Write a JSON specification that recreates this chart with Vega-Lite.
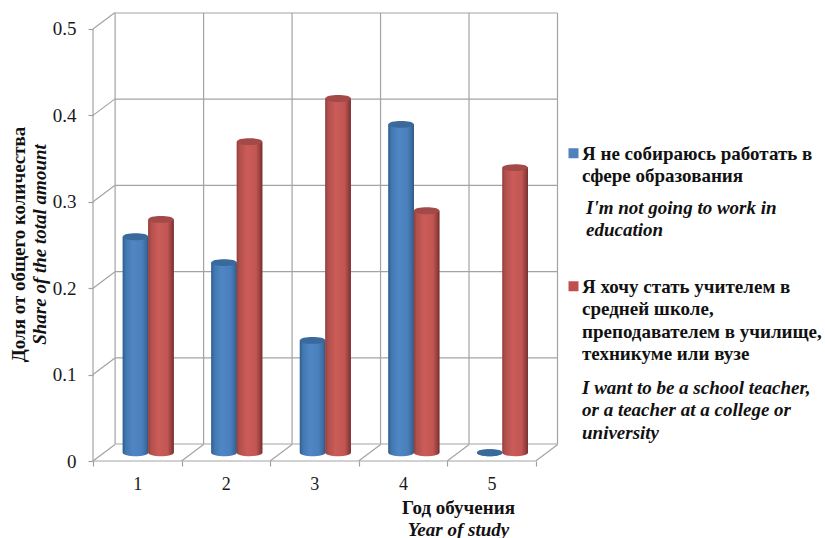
{
  "$schema": "https://vega.github.io/schema/vega-lite/v6.json",
  "width": 464.5,
  "height": 448,
  "autosize": "none",
  "padding": {"left": 93, "top": 13, "right": 267.5, "bottom": 77},
  "background": "white",
  "config": {
    "view": {"stroke": null},
    "style": {"guide-label": {"lineHeight": 22.5}},
    "axis": {"labelFont": "Liberation Serif", "titleFont": "Liberation Serif", "labelColor": "#1a1a1a", "titleColor": "#111111", "tickColor": "#a0a0a0", "tickWidth": 1.2, "grid": false},
    "legend": {"title": null, "orient": "none", "padding": 0, "labelFont": "Liberation Serif", "labelFontSize": 19, "labelColor": "#111111", "labelLimit": 400, "labelBaseline": "top"}
  },
  "datasets": {
    "bars": [
      {"year": 1, "share": 0.25, "series": "Я не собираюсь работать в\nсфере образования", "note": "I'm not going to work in\neducation"},
      {"year": 2, "share": 0.22, "series": "Я не собираюсь работать в\nсфере образования", "note": "I'm not going to work in\neducation"},
      {"year": 3, "share": 0.13, "series": "Я не собираюсь работать в\nсфере образования", "note": "I'm not going to work in\neducation"},
      {"year": 4, "share": 0.38, "series": "Я не собираюсь работать в\nсфере образования", "note": "I'm not going to work in\neducation"},
      {"year": 5, "share": 0, "series": "Я не собираюсь работать в\nсфере образования", "note": "I'm not going to work in\neducation"},
      {"year": 1, "share": 0.27, "series": "Я хочу стать учителем в\nсредней школе,\nпреподавателем в училище,\nтехникуме или вузе", "note": "I want to be a school teacher,\n\u00a0or a teacher at a college or\nuniversity"},
      {"year": 2, "share": 0.36, "series": "Я хочу стать учителем в\nсредней школе,\nпреподавателем в училище,\nтехникуме или вузе", "note": "I want to be a school teacher,\n\u00a0or a teacher at a college or\nuniversity"},
      {"year": 3, "share": 0.41, "series": "Я хочу стать учителем в\nсредней школе,\nпреподавателем в училище,\nтехникуме или вузе", "note": "I want to be a school teacher,\n\u00a0or a teacher at a college or\nuniversity"},
      {"year": 4, "share": 0.28, "series": "Я хочу стать учителем в\nсредней школе,\nпреподавателем в училище,\nтехникуме или вузе", "note": "I want to be a school teacher,\n\u00a0or a teacher at a college or\nuniversity"},
      {"year": 5, "share": 0.33, "series": "Я хочу стать учителем в\nсредней школе,\nпреподавателем в училище,\nтехникуме или вузе", "note": "I want to be a school teacher,\n\u00a0or a teacher at a college or\nuniversity"}
    ],
    "backWall": [
      {"a": 0.5, "b": 5.5, "v": 0, "w": 0},
      {"a": 0.5, "b": 5.5, "v": 0.1, "w": 0.1},
      {"a": 0.5, "b": 5.5, "v": 0.2, "w": 0.2},
      {"a": 0.5, "b": 5.5, "v": 0.3, "w": 0.3},
      {"a": 0.5, "b": 5.5, "v": 0.4, "w": 0.4},
      {"a": 0.5, "b": 5.5, "v": 0.5, "w": 0.5},
      {"a": 0.5, "b": 0.5, "v": 0, "w": 0.5},
      {"a": 1.5, "b": 1.5, "v": 0, "w": 0.5},
      {"a": 2.5, "b": 2.5, "v": 0, "w": 0.5},
      {"a": 3.5, "b": 3.5, "v": 0, "w": 0.5},
      {"a": 4.5, "b": 4.5, "v": 0, "w": 0.5},
      {"a": 5.5, "b": 5.5, "v": 0, "w": 0.5}
    ],
    "frontEdges": [
      {"a": 0.5, "b": 0.5, "v": 0, "w": 0.5},
      {"a": 0.5, "b": 5.5, "v": 0, "w": 0}
    ],
    "depthEdges": [
      {"a": 0.5, "b": 0.7485, "v": 0, "w": 0.0191},
      {"a": 0.5, "b": 0.7485, "v": 0.1, "w": 0.1191},
      {"a": 0.5, "b": 0.7485, "v": 0.2, "w": 0.2191},
      {"a": 0.5, "b": 0.7485, "v": 0.3, "w": 0.3191},
      {"a": 0.5, "b": 0.7485, "v": 0.4, "w": 0.4191},
      {"a": 0.5, "b": 0.7485, "v": 0.5, "w": 0.5191},
      {"a": 1.5, "b": 1.7485, "v": 0, "w": 0.0191},
      {"a": 2.5, "b": 2.7485, "v": 0, "w": 0.0191},
      {"a": 3.5, "b": 3.7485, "v": 0, "w": 0.0191},
      {"a": 4.5, "b": 4.7485, "v": 0, "w": 0.0191},
      {"a": 5.5, "b": 5.7485, "v": 0, "w": 0.0191}
    ]
  },
  "resolve": {
    "scale": {"x": "independent", "y": "independent", "color": "independent", "opacity": "independent"},
    "axis": {"x": "independent", "y": "independent"},
    "legend": {"color": "independent", "opacity": "independent"}
  },
  "layer": [
    {
      "description": "back wall grid",
      "data": {"name": "backWall"},
      "mark": {"type": "rule", "color": "#a3a3a3", "strokeWidth": 1.2},
      "encoding": {
        "x": {"field": "a", "type": "quantitative", "scale": {"domain": [0.25, 5.5], "nice": false, "zero": false}, "axis": null},
        "x2": {"field": "b"},
        "y": {"field": "v", "type": "quantitative", "scale": {"domain": [-0.0197, 0.5], "nice": false, "zero": false}, "axis": null},
        "y2": {"field": "w"}
      }
    },
    {
      "description": "front edges, value axis and year labels",
      "data": {"name": "frontEdges"},
      "mark": {"type": "rule", "color": "#a3a3a3", "strokeWidth": 1.2},
      "encoding": {
        "x": {"field": "a", "type": "quantitative", "scale": {"domain": [0.5, 5.746], "nice": false, "zero": false},
          "axis": {"orient": "bottom", "values": [1, 2, 3, 4, 5], "format": "d", "domain": false, "ticks": false, "labelFontSize": 18, "labelPadding": 14, "title": "Год обучения", "titleFontSize": 19, "titleFontWeight": "bold", "titleBaseline": "middle", "titleX": 365, "titleY": 46}},
        "x2": {"field": "b"},
        "y": {"field": "v", "type": "quantitative", "scale": {"domain": [0, 0.5185], "nice": false, "zero": false},
          "axis": {"orient": "left", "values": [0, 0.1, 0.2, 0.3, 0.4, 0.5], "format": ".1~f", "domain": false, "tickSize": 5, "labelFontSize": 19, "labelPadding": 12, "title": "Доля от общего количества", "titleFontSize": 19, "titleFontWeight": "bold", "titleBaseline": "middle", "titleX": -75, "titleY": 231}},
        "y2": {"field": "w"}
      }
    },
    {
      "description": "receding edges, category ticks and English axis titles",
      "data": {"name": "depthEdges"},
      "mark": {"type": "rule", "color": "#a3a3a3", "strokeWidth": 1.2},
      "encoding": {
        "x": {"field": "a", "type": "quantitative", "scale": {"domain": [0.5, 5.746], "nice": false, "zero": false},
          "axis": {"orient": "bottom", "values": [0.5, 1.5, 2.5, 3.5, 4.5, 5.5], "labels": false, "domain": false, "tickSize": 5, "title": "Year of study", "titleFontSize": 19, "titleFontWeight": "bold", "titleFontStyle": "italic", "titleBaseline": "middle", "titleX": 365, "titleY": 68}},
        "x2": {"field": "b"},
        "y": {"field": "v", "type": "quantitative", "scale": {"domain": [0, 0.5185], "nice": false, "zero": false},
          "axis": {"orient": "left", "labels": false, "ticks": false, "domain": false, "title": "Share of the total amount", "titleFontSize": 19, "titleFontWeight": "bold", "titleFontStyle": "italic", "titleBaseline": "middle", "titleX": -54, "titleY": 231}},
        "y2": {"field": "w"}
      }
    },
    {
      "description": "first series: flat bars carry the two legends",
      "data": {"name": "bars"},
      "transform": [{"filter": "datum.note[2] === 'm'"}],
      "mark": {"type": "bar", "orient": "vertical", "size": 25.5},
      "encoding": {
        "x": {"field": "year", "type": "quantitative", "scale": {"domain": [0.52, 5.766], "nice": false, "zero": false, "padding": 0}, "axis": null},
        "y": {"field": "share", "type": "quantitative", "scale": {"domain": [-0.0096, 0.5089], "nice": false, "zero": false}, "axis": null},
        "y2": {"datum": 0},
        "color": {"field": "series", "type": "nominal", "scale": {"range": ["#4f81bd"]},
          "legend": {"legendX": 471, "legendY": 122, "symbolType": "M-1,.75H1V2.75H-1Z", "symbolSize": 100, "symbolStrokeWidth": 0, "labelFontWeight": "bold", "labelOffset": -1, "labelExpr": "split(datum.label, '\\n')"}},
        "opacity": {"field": "note", "type": "nominal", "scale": {"range": [1]},
          "legend": {"legendX": 474, "legendY": 176, "symbolSize": 1, "symbolFillColor": "transparent", "symbolStrokeColor": "transparent", "labelFontWeight": "bold", "labelFontStyle": "italic", "labelOffset": 0, "labelExpr": "split(datum.label, '\\n')"}}
      }
    },
    {
      "description": "first series: rounded base",
      "data": {"name": "bars"},
      "transform": [{"filter": "datum.note[2] === 'm'"}],
      "mark": {"type": "point", "filled": true, "opacity": 1, "size": 650, "shape": "M-1,0C-1,-.36,1,-.36,1,0C1,.36,-1,.36,-1,0Z",
        "color": {"gradient": "linear", "x1": 0, "x2": 1, "y1": 0, "y2": 0, "stops": [{"offset": 0, "color": "#2e5c8c"}, {"offset": 0.12, "color": "#4278b0"}, {"offset": 0.4, "color": "#4f86c4"}, {"offset": 0.75, "color": "#4a7fbc"}, {"offset": 0.93, "color": "#3a6a9e"}, {"offset": 1, "color": "#2c5078"}]}},
      "encoding": {
        "x": {"field": "year", "type": "quantitative", "scale": {"domain": [0.52, 5.766], "nice": false, "zero": false}, "axis": null},
        "y": {"datum": 0, "type": "quantitative", "scale": {"domain": [-0.0096, 0.5089], "nice": false, "zero": false}, "axis": null}
      }
    },
    {
      "description": "first series: cylinder shading",
      "data": {"name": "bars"},
      "transform": [{"filter": "datum.note[2] === 'm'"}],
      "mark": {"type": "bar", "orient": "vertical", "size": 25.5,
        "color": {"gradient": "linear", "x1": 0, "x2": 1, "y1": 0, "y2": 0, "stops": [{"offset": 0, "color": "#2e5c8c"}, {"offset": 0.12, "color": "#4278b0"}, {"offset": 0.4, "color": "#4f86c4"}, {"offset": 0.75, "color": "#4a7fbc"}, {"offset": 0.93, "color": "#3a6a9e"}, {"offset": 1, "color": "#2c5078"}]}},
      "encoding": {
        "x": {"field": "year", "type": "quantitative", "scale": {"domain": [0.52, 5.766], "nice": false, "zero": false, "padding": 0}, "axis": null},
        "y": {"field": "share", "type": "quantitative", "scale": {"domain": [-0.0096, 0.5089], "nice": false, "zero": false}, "axis": null},
        "y2": {"datum": 0}
      }
    },
    {
      "description": "first series: cylinder caps",
      "data": {"name": "bars"},
      "transform": [{"filter": "datum.note[2] === 'm'"}],
      "mark": {"type": "point", "filled": true, "opacity": 1, "size": 650, "shape": "M-1,0C-1,-.36,1,-.36,1,0C1,.36,-1,.36,-1,0Z", "color": "#3a6a9c"},
      "encoding": {
        "x": {"field": "year", "type": "quantitative", "scale": {"domain": [0.52, 5.766], "nice": false, "zero": false}, "axis": null},
        "y": {"field": "share", "type": "quantitative", "scale": {"domain": [-0.0096, 0.5089], "nice": false, "zero": false}, "axis": null}
      }
    },
    {
      "description": "second series: flat bars carry the two legends",
      "data": {"name": "bars"},
      "transform": [{"filter": "datum.note[2] !== 'm'"}],
      "mark": {"type": "bar", "orient": "vertical", "size": 25.5},
      "encoding": {
        "x": {"field": "year", "type": "quantitative", "scale": {"domain": [0.232, 5.478], "nice": false, "zero": false, "padding": 0}, "axis": null},
        "y": {"field": "share", "type": "quantitative", "scale": {"domain": [-0.0096, 0.5089], "nice": false, "zero": false}, "axis": null},
        "y2": {"datum": 0},
        "color": {"field": "series", "type": "nominal", "scale": {"range": ["#c0504d"]},
          "legend": {"legendX": 471, "legendY": 255, "symbolType": "M-1,.75H1V2.75H-1Z", "symbolSize": 100, "symbolStrokeWidth": 0, "labelFontWeight": "bold", "labelOffset": -1, "labelExpr": "split(datum.label, '\\n')"}},
        "opacity": {"field": "note", "type": "nominal", "scale": {"range": [1]},
          "legend": {"legendX": 470, "legendY": 356, "symbolSize": 1, "symbolFillColor": "transparent", "symbolStrokeColor": "transparent", "labelFontWeight": "bold", "labelFontStyle": "italic", "labelOffset": 0, "labelExpr": "split(datum.label, '\\n')"}}
      }
    },
    {
      "description": "second series: rounded base",
      "data": {"name": "bars"},
      "transform": [{"filter": "datum.note[2] !== 'm'"}],
      "mark": {"type": "point", "filled": true, "opacity": 1, "size": 650, "shape": "M-1,0C-1,-.36,1,-.36,1,0C1,.36,-1,.36,-1,0Z",
        "color": {"gradient": "linear", "x1": 0, "x2": 1, "y1": 0, "y2": 0, "stops": [{"offset": 0, "color": "#8f3f3d"}, {"offset": 0.1, "color": "#b04f4c"}, {"offset": 0.4, "color": "#cb5c58"}, {"offset": 0.75, "color": "#c25653"}, {"offset": 0.92, "color": "#933f3d"}, {"offset": 1, "color": "#6f2e2d"}]}},
      "encoding": {
        "x": {"field": "year", "type": "quantitative", "scale": {"domain": [0.232, 5.478], "nice": false, "zero": false}, "axis": null},
        "y": {"datum": 0, "type": "quantitative", "scale": {"domain": [-0.0096, 0.5089], "nice": false, "zero": false}, "axis": null}
      }
    },
    {
      "description": "second series: cylinder shading",
      "data": {"name": "bars"},
      "transform": [{"filter": "datum.note[2] !== 'm'"}],
      "mark": {"type": "bar", "orient": "vertical", "size": 25.5,
        "color": {"gradient": "linear", "x1": 0, "x2": 1, "y1": 0, "y2": 0, "stops": [{"offset": 0, "color": "#8f3f3d"}, {"offset": 0.1, "color": "#b04f4c"}, {"offset": 0.4, "color": "#cb5c58"}, {"offset": 0.75, "color": "#c25653"}, {"offset": 0.92, "color": "#933f3d"}, {"offset": 1, "color": "#6f2e2d"}]}},
      "encoding": {
        "x": {"field": "year", "type": "quantitative", "scale": {"domain": [0.232, 5.478], "nice": false, "zero": false, "padding": 0}, "axis": null},
        "y": {"field": "share", "type": "quantitative", "scale": {"domain": [-0.0096, 0.5089], "nice": false, "zero": false}, "axis": null},
        "y2": {"datum": 0}
      }
    },
    {
      "description": "second series: cylinder caps",
      "data": {"name": "bars"},
      "transform": [{"filter": "datum.note[2] !== 'm'"}],
      "mark": {"type": "point", "filled": true, "opacity": 1, "size": 650, "shape": "M-1,0C-1,-.36,1,-.36,1,0C1,.36,-1,.36,-1,0Z", "color": "#a34a48"},
      "encoding": {
        "x": {"field": "year", "type": "quantitative", "scale": {"domain": [0.232, 5.478], "nice": false, "zero": false}, "axis": null},
        "y": {"field": "share", "type": "quantitative", "scale": {"domain": [-0.0096, 0.5089], "nice": false, "zero": false}, "axis": null}
      }
    }
  ]
}
